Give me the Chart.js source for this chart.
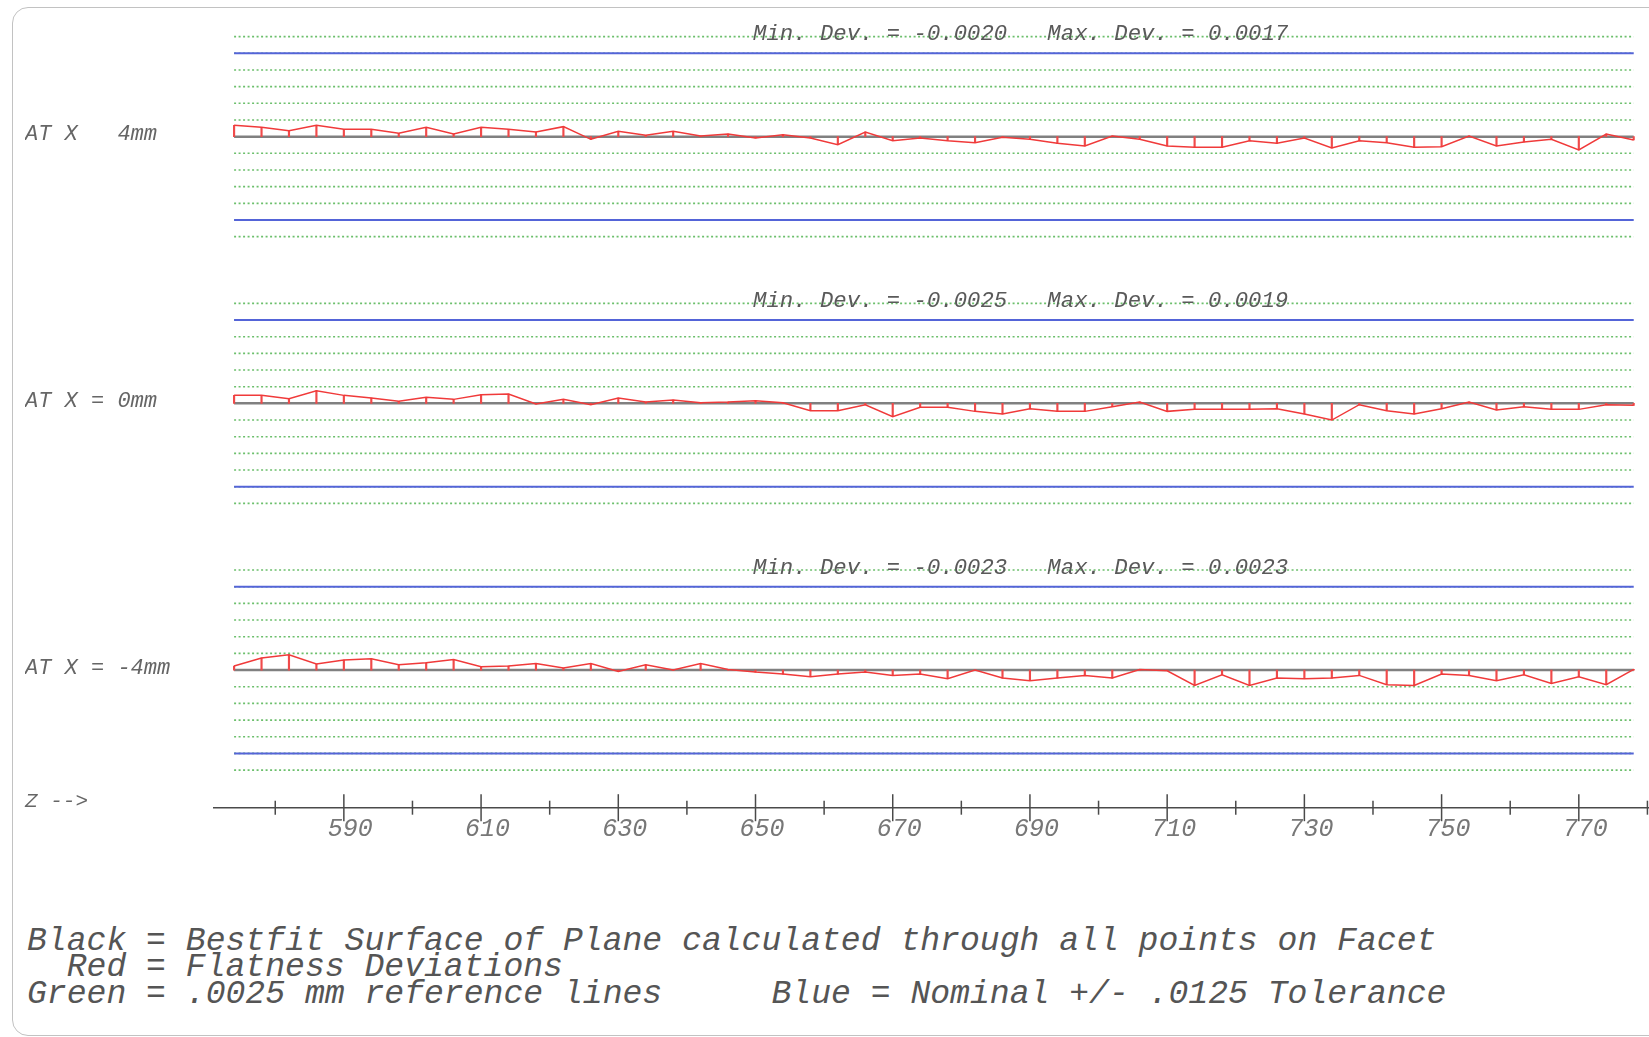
<!DOCTYPE html>
<html><head><meta charset="utf-8">
<script src="https://cdn.jsdelivr.net/npm/chart.js@4.4.1/dist/chart.umd.min.js"></script>
<style>
html,body{margin:0;padding:0;background:#fff;width:1649px;height:1037px;overflow:hidden;position:relative;}
#frame{position:absolute;left:12px;top:7px;width:1720px;height:1029px;border:1.5px solid #c2c2c2;border-radius:16px;box-sizing:border-box;}
#c{position:absolute;left:0;top:0;}
.t{position:absolute;font-family:"Liberation Mono",monospace;font-style:italic;white-space:pre;line-height:1;}
.dev{font-size:22.3px;color:#5a5a5a;left:753px;}
#zlab{left:25px;top:791px;font-size:21px;color:#666;}
#legend{left:27px;top:928px;font-size:33.1px;line-height:26.3px;color:#555;}
#legend span{margin-left:10px;}
</style></head><body>
<div id="frame"></div>
<canvas id="c" width="1649" height="860"></canvas>
<div class="t dev" id="dev0"></div>
<div class="t dev" id="dev1"></div>
<div class="t dev" id="dev2"></div>
<div class="t" id="zlab">Z --&gt;</div>
<div class="t" id="legend">Black = Bestfit Surface of Plane calculated through all points on Facet
  Red = Flatness Deviations
Green = .0025 mm reference lines     <span>Blue = Nominal +/- .0125 Tolerance</span></div>
<script>
// ---- data ----
const xPositions = [574,578,582,586,590,594,598,602,606,610,614,618,622,626,630,634,638,642,646,650,654,658,662,666,670,674,678,682,686,690,694,698,702,706,710,714,718,722,726,730,734,738,742,746,750,754,758,762,766,770,774,778];
const devAtX4 = [0.0017,0.0014,0.0009,0.0017,0.0011,0.0011,0.0005,0.0014,0.0004,0.0014,0.0011,0.0007,0.0015,-0.0004,0.0008,0.0002,0.0008,0.0001,0.0004,-0.0002,0.0003,-0.0002,-0.0012,0.0007,-0.0006,-0.0002,-0.0006,-0.0009,-0.0001,-0.0004,-0.0010,-0.0014,0.0001,-0.0004,-0.0014,-0.0016,-0.0016,-0.0006,-0.0010,-0.0002,-0.0017,-0.0006,-0.0009,-0.0016,-0.0015,0.0001,-0.0014,-0.0008,-0.0004,-0.0020,0.0004,-0.0005];
const devAtX0 = [0.0012,0.0012,0.0007,0.0019,0.0012,0.0008,0.0003,0.0009,0.0006,0.0013,0.0014,-0.0001,0.0006,-0.0002,0.0008,0.0002,0.0005,0.0001,0.0002,0.0004,0.0001,-0.0011,-0.0011,-0.0002,-0.0020,-0.0006,-0.0006,-0.0012,-0.0016,-0.0008,-0.0012,-0.0012,-0.0005,0.0002,-0.0012,-0.0009,-0.0009,-0.0009,-0.0008,-0.0016,-0.0025,-0.0002,-0.0011,-0.0016,-0.0008,0.0002,-0.0010,-0.0005,-0.0009,-0.0009,-0.0002,-0.0003];
const devAtXm4 = [0.0006,0.0018,0.0023,0.0009,0.0015,0.0017,0.0008,0.0011,0.0016,0.0005,0.0006,0.0010,0.0003,0.0010,-0.0002,0.0008,0.0000,0.0010,0.0001,-0.0003,-0.0006,-0.0010,-0.0006,-0.0003,-0.0008,-0.0006,-0.0013,0.0000,-0.0012,-0.0016,-0.0012,-0.0008,-0.0012,0.0001,-0.0001,-0.0023,-0.0007,-0.0023,-0.0012,-0.0013,-0.0012,-0.0008,-0.0022,-0.0023,-0.0006,-0.0008,-0.0016,-0.0007,-0.0020,-0.0010,-0.0022,0.0001];
const panelLabels = ['AT X   4mm', 'AT X = 0mm', 'AT X = -4mm'];
const minDevs = [-0.0020, -0.0025, -0.0023];
const maxDevs = [0.0017, 0.0019, 0.0023];
const refLevels = [0.015, 0.0125, 0.01, 0.0075, 0.005, 0.0025, -0.0025, -0.005, -0.0075, -0.01, -0.0125, -0.015];
const tolLevels = [0.0125, -0.0125];
const majorTicks = [590, 610, 630, 650, 670, 690, 710, 730, 750, 770];
const minorTicks = [580, 600, 620, 640, 660, 680, 700, 720, 740, 760, 780];

const panels = [devAtX4, devAtX0, devAtXm4];
const panelMin = [-0.02, -0.02, -0.02064];
const panelMax = [0.02, 0.02, 0.02];

const monoItalic = (size) => ({family: 'Liberation Mono', style: 'italic', size: size});
const noPad = s => { s.paddingTop = 0; s.paddingBottom = 0; s.paddingLeft = 0; s.paddingRight = 0; };
const datasets = [];
const scales = {
  x: {
    type: 'linear', min: 571, max: 780.23, offset: false,
    afterBuildTicks: s => { s.ticks = majorTicks.map(v => ({value: v})); },
    afterFit: s => { s.height = 52.3; noPad(s); },
    grid: {display: false, drawTicks: false},
    border: {display: true, color: '#4a4a4a', width: 1.5},
    ticks: {autoSkip: false, maxRotation: 0, padding: 7, labelOffset: 6.5, color: '#777', font: monoItalic(25)}
  }
};
panels.forEach((devs, i) => {
  const id = 'y' + (i + 1);
  scales[id] = {
    type: 'linear', position: 'left', stack: 'panels', stackWeight: panelMax[i] - panelMin[i], weight: 3 - i,
    min: panelMin[i], max: panelMax[i], offset: false, beginAtZero: false,
    afterBuildTicks: s => { s.ticks = [{value: 0}]; },
    afterFit: s => { s.width = 188.5; noPad(s); },
    grid: {display: false, drawTicks: false},
    border: {display: false},
    ticks: {crossAlign: 'far', padding: 0, labelOffset: -2, color: '#666', font: monoItalic(22), callback: () => panelLabels[i]}
  };
  const x0 = xPositions[0], x1 = xPositions[xPositions.length - 1];
  datasets.push({type: 'line', yAxisID: id, order: 0, data: xPositions.map((x, j) => ({x, y: devs[j]})),
    borderColor: '#f03a3a', borderWidth: 1.5, pointRadius: 0, tension: 0, fill: false});
  datasets.push({type: 'bar', yAxisID: id, order: 1, grouped: false, data: xPositions.map((x, j) => ({x, y: [0, devs[j]]})),
    backgroundColor: '#f04a4a', borderWidth: 0, barThickness: 1.5});
  datasets.push({type: 'line', yAxisID: id, order: 2, data: [{x: x0, y: 0}, {x: x1, y: 0}],
    borderColor: '#808080', borderWidth: 2.5, pointRadius: 0, fill: false});
  tolLevels.forEach(v => datasets.push({type: 'line', yAxisID: id, order: 3, data: [{x: x0, y: v}, {x: x1, y: v}],
    borderColor: '#5464d8', borderWidth: 2, pointRadius: 0, fill: false}));
  refLevels.forEach(v => datasets.push({type: 'line', yAxisID: id, order: 4, data: [{x: x0, y: v}, {x: x1, y: v}],
    borderColor: '#6cbf6c', borderWidth: 1.6, borderDash: [2, 2.5], pointRadius: 0, fill: false}));
});
// axis tick marks crossing the Z axis line
const axisLevel = panelMin[2];
datasets.push({type: 'line', yAxisID: 'y3', order: 0, showLine: false, clip: false,
  data: majorTicks.map(v => ({x: v, y: axisLevel})), pointStyle: 'line', rotation: 90, pointRadius: 13.5,
  pointBorderColor: '#4a4a4a', pointBorderWidth: 1.5, pointHoverRadius: 13.5});
datasets.push({type: 'line', yAxisID: 'y3', order: 0, showLine: false, clip: false,
  data: minorTicks.map(v => ({x: v, y: axisLevel})), pointStyle: 'line', rotation: 90, pointRadius: 7,
  pointBorderColor: '#4a4a4a', pointBorderWidth: 1.5, pointHoverRadius: 7});

const chart = new Chart(document.getElementById('c'), {
  type: 'line',
  data: {datasets},
  options: {
    responsive: false, animation: false, devicePixelRatio: 1,
    layout: {autoPadding: false, padding: {left: 25, top: 3.3, right: 0, bottom: 0}},
    plugins: {legend: {display: false}, tooltip: {enabled: false}, title: {display: false}},
    events: [],
    scales
  }
});
panels.forEach((devs, i) => {
  const el = document.getElementById('dev' + i);
  el.textContent = 'Min. Dev. = ' + minDevs[i].toFixed(4) + '   Max. Dev. = ' + maxDevs[i].toFixed(4);
  const yTop = chart.scales['y' + (i + 1)].getPixelForValue(refLevels[0]);
  el.style.top = (yTop - 13.5) + 'px';
});
</script>
</body></html>
